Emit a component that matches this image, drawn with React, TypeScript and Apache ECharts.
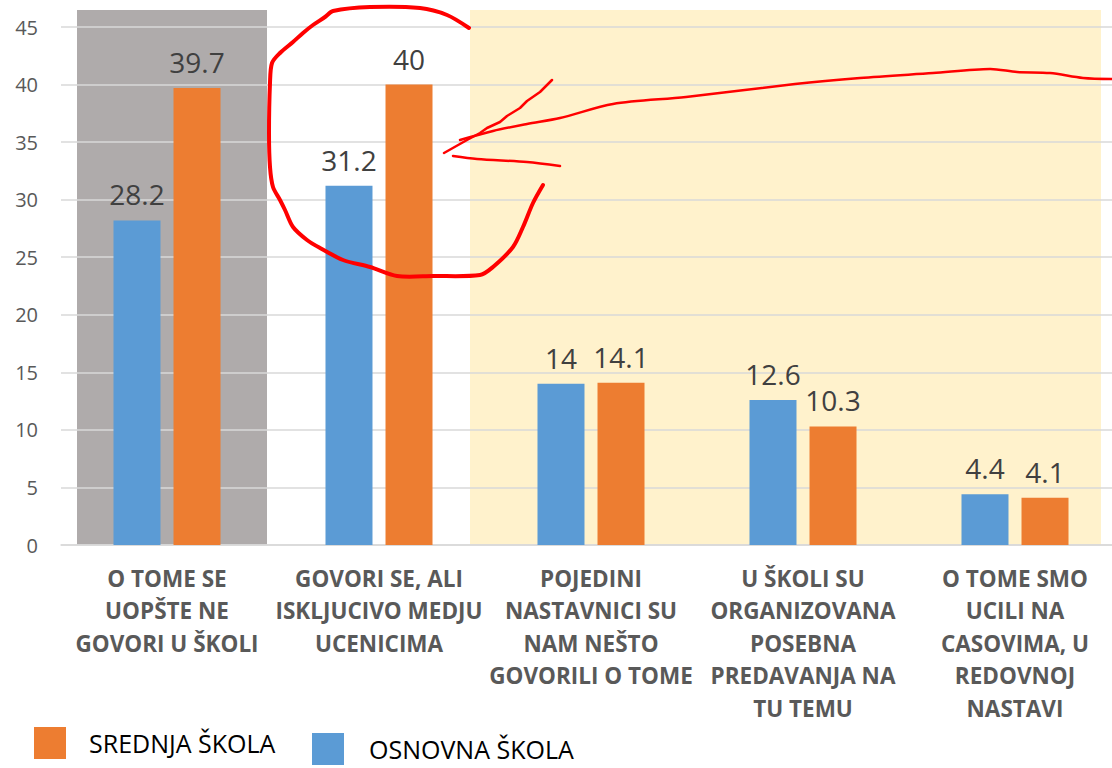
import React, { useEffect, useRef } from "react";
import * as echarts from "echarts";

const categories = [
  "O TOME SE\nUOPŠTE NE\nGOVORI U ŠKOLI",
  "GOVORI SE, ALI\nISKLJUCIVO MEDJU\nUCENICIMA",
  "POJEDINI\nNASTAVNICI SU\nNAM NEŠTO\nGOVORILI O TOME",
  "U ŠKOLI SU\nORGANIZOVANA\nPOSEBNA\nPREDAVANJA NA\nTU TEMU",
  "O TOME SMO\nUCILI NA\nCASOVIMA, U\nREDOVNOJ\nNASTAVI",
];
const osnovnaName = "OSNOVNA ŠKOLA";
const srednjaName = "SREDNJA ŠKOLA";
const osnovna = [28.2, 31.2, 14, 12.6, 4.4];
const srednja = [39.7, 40, 14.1, 10.3, 4.1];
const yMin = 0;
const yMax = 45;
const yStep = 5;

const FONT = "'Open Sans', 'Noto Sans', sans-serif";

const circlePts = [
  [469, 28], [447, 15], [420, 8], [370, 7], [333, 11], [325, 17], [313, 25], [303, 33],
  [293, 42], [280, 53], [272, 63], [270, 83], [269, 133], [270, 167], [273, 187], [280, 200],
  [285, 210], [293, 227], [307, 240], [320, 248], [343, 260], [370, 267], [397, 276],
  [433, 276], [480, 275], [493, 267], [513, 247], [523, 227], [533, 203], [543, 185],
];
const strokeA = [[444, 153], [467, 140], [480, 133], [487, 128], [500, 122], [507, 116], [520, 108], [527, 101], [540, 92], [552, 80]];
const strokeB = [
  [460, 140], [493, 131], [527, 124], [560, 118], [613, 104], [686, 97], [795, 84],
  [860, 78], [933, 73], [990, 69], [1017, 72], [1050, 73], [1083, 78], [1112, 79],
];
const strokeC = [[453, 156], [477, 159], [527, 162], [560, 166]];

export default function App() {
  const ref = useRef<HTMLDivElement>(null);
  useEffect(() => {
    if (!ref.current) return;
    const chart = echarts.init(ref.current, null, { renderer: "svg" });
    const legendText = (pad: number[]) => ({
      fontSize: 25,
      color: "#000",
      fontFamily: FONT,
      padding: pad,
    });
    const barLabel = {
      show: true,
      position: "top",
      distance: 12,
      fontSize: 28,
      color: "#404040",
      fontFamily: FONT,
    };
    chart.setOption({
      animation: false,
      backgroundColor: "#fff",
      textStyle: { fontFamily: FONT },
      grid: { left: 61, top: 27, width: 1060, height: 518, containLabel: false },
      legend: [
        {
          data: [srednjaName],
          left: 34,
          top: 727,
          padding: 0,
          itemWidth: 32,
          itemHeight: 32,
          icon: "rect",
          textStyle: legendText([14, 0, 0, 18]),
        },
        {
          data: [osnovnaName],
          left: 312,
          top: 733,
          padding: 0,
          itemWidth: 32,
          itemHeight: 32,
          icon: "rect",
          textStyle: legendText([18, 0, 0, 20]),
        },
      ],
      xAxis: {
        type: "category",
        data: categories,
        axisLine: { show: true, lineStyle: { color: "#D9D9D9", width: 1.5 } },
        axisTick: { show: false },
        axisLabel: {
          interval: 0,
          color: "#595959",
          fontWeight: "bold",
          fontSize: 22.5,
          lineHeight: 32.5,
          margin: 17,
          fontFamily: FONT,
          verticalAlign: "top",
        },
      },
      yAxis: {
        type: "value",
        min: yMin,
        max: yMax,
        interval: yStep,
        axisLine: { show: false },
        axisTick: { show: false },
        splitLine: { lineStyle: { color: "#D9D9D9", width: 1.5 } },
        axisLabel: { color: "#595959", fontSize: 20, margin: 23, fontFamily: FONT },
      },
      series: [
        {
          name: osnovnaName,
          type: "bar",
          data: osnovna,
          barWidth: 47,
          barGap: "27.7%",
          itemStyle: { color: "#5B9BD5" },
          label: barLabel,
        },
        {
          name: srednjaName,
          type: "bar",
          data: srednja,
          barWidth: 47,
          barGap: "27.7%",
          itemStyle: { color: "#ED7D31" },
          label: barLabel,
        },
      ],
      graphic: [
        {
          type: "rect",
          z: -10,
          shape: { x: 77, y: 10, width: 190, height: 535 },
          style: { fill: "#AFABAB" },
          silent: true,
        },
        {
          type: "rect",
          z: -10,
          shape: { x: 470, y: 10, width: 631, height: 535 },
          style: { fill: "#FFF2CC" },
          silent: true,
        },
        {
          type: "polyline",
          z: 100,
          shape: { points: circlePts, smooth: 0.3 },
          style: { stroke: "#FF0000", lineWidth: 4, fill: null, lineCap: "round", lineJoin: "round" },
          silent: true,
        },
        {
          type: "polyline",
          z: 100,
          shape: { points: strokeA },
          style: { stroke: "#FF0000", lineWidth: 2.5, fill: null, lineCap: "round", lineJoin: "round" },
          silent: true,
        },
        {
          type: "polyline",
          z: 100,
          shape: { points: strokeB, smooth: 0.3 },
          style: { stroke: "#FF0000", lineWidth: 2.5, fill: null, lineCap: "round" },
          silent: true,
        },
        {
          type: "polyline",
          z: 100,
          shape: { points: strokeC, smooth: 0.3 },
          style: { stroke: "#FF0000", lineWidth: 2.5, fill: null, lineCap: "round" },
          silent: true,
        },
      ],
    });
    return () => chart.dispose();
  }, []);
  return (
    <div
      style={{
        position: "fixed",
        left: 0,
        top: 0,
        width: 1112,
        height: 768,
        overflow: "hidden",
      }}
    >
      <div ref={ref} style={{ position: "absolute", left: 0, top: 0, width: 1121, height: 768 }} />
    </div>
  );
}
